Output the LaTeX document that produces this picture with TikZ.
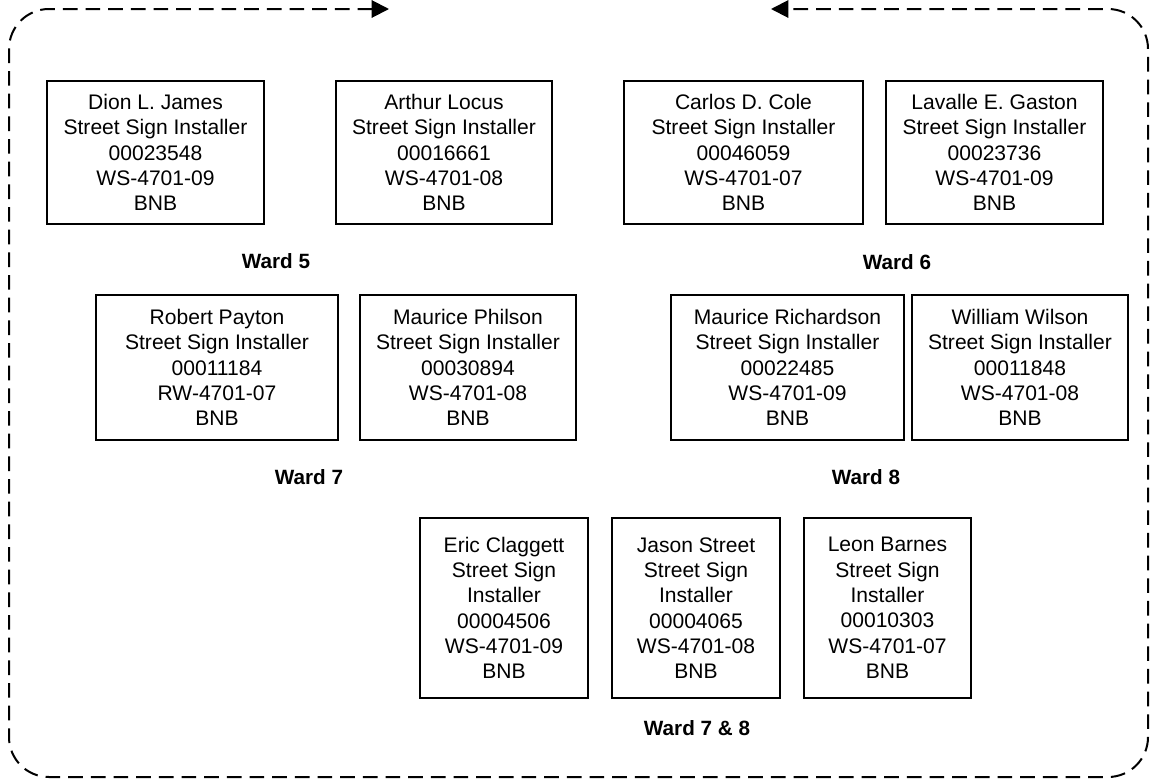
\documentclass[tikz,border=0pt]{standalone}
\usepackage{fontspec}
\setmainfont{Liberation Sans}
\usetikzlibrary{arrows.meta}
\tikzset{
  person/.style={draw, line width=1.1pt, align=center, inner sep=0pt,
    font=\fontsize{15.8}{19}\selectfont},
  wardlabel/.style={font=\bfseries\fontsize{15.5}{18}\selectfont, inner sep=0pt},
  loopline/.style={line width=1.5pt, dash pattern=on 11pt off 6pt,
    rounded corners=30pt, {Triangle[length=13pt,width=13pt]}-{Triangle[length=13pt,width=13pt]}}
}
\begin{document}
\begin{tikzpicture}[x=0.75pt,y=-0.75pt]
\useasboundingbox (0,0) rectangle (1150,779);
% row 1
\node[person, minimum width=162.75pt, minimum height=107.25pt] (a) at (155.5,152.5)
  {Dion L. James\\Street Sign Installer\\00023548\\WS-4701-09\\BNB};
\node[person, minimum width=162pt, minimum height=107.25pt] (b) at (444,152.5)
  {Arthur Locus\\Street Sign Installer\\00016661\\WS-4701-08\\BNB};
\node[person, minimum width=179.25pt, minimum height=107.25pt] (c) at (743.5,152.5)
  {Carlos D. Cole\\Street Sign Installer\\00046059\\WS-4701-07\\BNB};
\node[person, minimum width=162.75pt, minimum height=107.25pt] (d) at (994.5,152.5)
  {Lavalle E. Gaston\\Street Sign Installer\\00023736\\WS-4701-09\\BNB};
\node[wardlabel] (w5) at (276,261) {Ward 5};
\node[wardlabel] (w6) at (897,262) {Ward 6};
% row 2
\node[person, minimum width=181.5pt, minimum height=108.75pt] (e) at (217,367.5)
  {Robert Payton\\Street Sign Installer\\00011184\\RW-4701-07\\BNB};
\node[person, minimum width=162pt, minimum height=108.75pt] (f) at (468,367.5)
  {Maurice Philson\\Street Sign Installer\\00030894\\WS-4701-08\\BNB};
\node[person, minimum width=174.75pt, minimum height=108.75pt] (g) at (787.5,367.5)
  {Maurice Richardson\\Street Sign Installer\\00022485\\WS-4701-09\\BNB};
\node[person, minimum width=162pt, minimum height=108.75pt] (h) at (1020,367.5)
  {William Wilson\\Street Sign Installer\\00011848\\WS-4701-08\\BNB};
\node[wardlabel] (w7) at (309,477) {Ward 7};
\node[wardlabel] (w8) at (866,477) {Ward 8};
% row 3
\node[person, minimum width=126pt, minimum height=135pt] (i) at (504,608)
  {Eric Claggett\\Street Sign\\Installer\\00004506\\WS-4701-09\\BNB};
\node[person, minimum width=126pt, minimum height=135pt] (j) at (696,608)
  {Jason Street\\Street Sign\\Installer\\00004065\\WS-4701-08\\BNB};
\node[person, minimum width=125.25pt, minimum height=135pt] (k) at (887.5,608)
  {Leon Barnes\\Street Sign\\Installer\\00010303\\WS-4701-07\\BNB};
\node[wardlabel] (w78) at (697,728) {Ward 7 \& 8};
% surrounding dashed loop
\coordinate (s) at (389,9);
\coordinate (tl) at (9,9);
\coordinate (bl) at (9,777);
\coordinate (br) at (1148,777);
\coordinate (tr) at (1148,9);
\coordinate (e1) at (771,9);
\draw[loopline] (s) -- (tl) -- (bl) -- (br) -- (tr) -- (e1);
\end{tikzpicture}
\end{document}
